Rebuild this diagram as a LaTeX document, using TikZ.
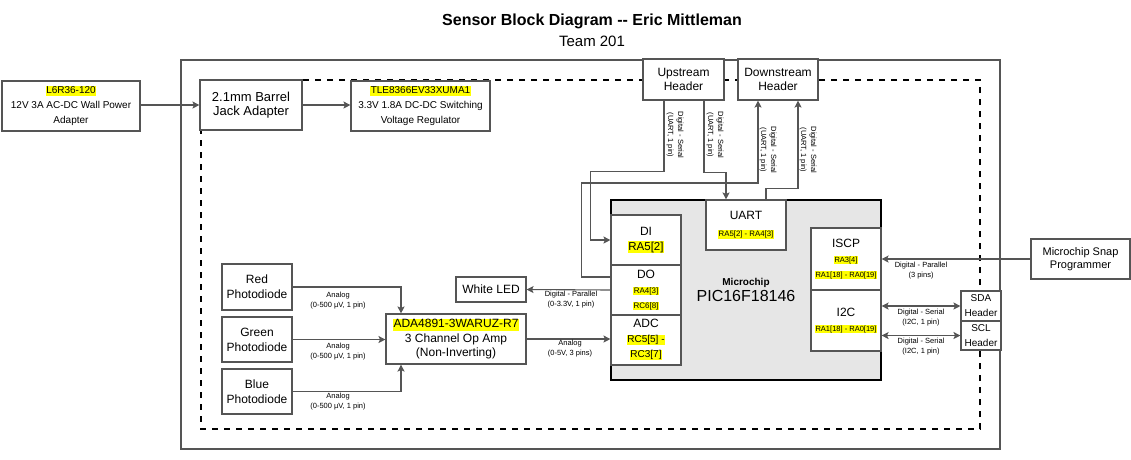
\documentclass[tikz,border=0pt]{standalone}
\usepackage{fontspec}
\setmainfont{Liberation Sans}
\usetikzlibrary{arrows.meta,calc}
\definecolor{ln}{HTML}{555555}
\definecolor{hly}{HTML}{FFFF00}
\definecolor{mcufill}{HTML}{E6E6E6}
\newcommand{\yl}[1]{{\setlength{\fboxsep}{0.5pt}\colorbox{hly}{\vphantom{Ay[}#1}}}
\newcommand{\fs}[2]{\fontsize{#1}{#2}\selectfont}
\begin{document}
\begin{tikzpicture}[x=1pt,y=-1pt,
  box/.style={draw=ln,line width=1.1pt,fill=white,inner sep=0pt,align=center,text=black},
  sz/.style 2 args={minimum width=#1pt,minimum height=#2pt},
  conn/.style={draw=ln,line width=1.1pt,-{Stealth[length=7pt,width=7pt,inset=1.5pt]}},
  dconn/.style={draw=ln,line width=1.1pt,{Stealth[length=7pt,width=7pt,inset=1.5pt]}-{Stealth[length=7pt,width=7pt,inset=1.5pt]}},
  lbl/.style={font=\fs{7.5}{10},align=center,inner sep=0pt,text=black},
]
\useasboundingbox (0,0) rectangle (1131,459);
\node[font=\bfseries\fs{16}{19}] (title) at (592,21) {Sensor Block Diagram -{}- Eric Mittleman};
\node[font=\fs{15}{18}] (team) at (592,41) {Team 201};
\draw[ln, line width=1.5pt] (181,60) rectangle (1000,449);
\draw[black, line width=2pt, dash pattern=on 6pt off 6pt] (201,80) rectangle (980,429);

\node[box,sz={138}{50},font=\fs{10}{15}] (adapter) at (71,106) {\yl{L6R36-120}\\12V 3A AC-DC Wall Power\\Adapter};
\node[box,sz={102}{50},font=\fs{13}{14}] (barrel) at (251,105) {2.1mm Barrel\\Jack Adapter};
\node[box,sz={139}{50},font=\fs{10}{15}] (reg) at (420.5,106) {\yl{TLE8366EV33XUMA1}\\3.3V 1.8A DC-DC Switching\\Voltage Regulator};
\node[box,sz={81}{41},font=\fs{12}{14}] (up) at (683.5,79.5) {Upstream\\Header};
\node[box,sz={80}{41},font=\fs{12}{14}] (down) at (778,79.5) {Downstream\\Header};

\node[box,draw=black,line width=2pt,fill=mcufill,sz={270}{180},font=\fs{16}{16}] (mcu) at (746,290) {{\bfseries\fs{10}{12}Microchip}\\PIC16F18146};
\node[box,sz={70}{50},font=\fs{12}{15}] (DI) at (646,240) {DI\\{\fs{11.5}{15}\yl{RA5[2]}}};
\node[box,sz={70}{50},font=\fs{12}{15}] (DO) at (646,290) {DO\\{\fs{8}{10}\yl{RA4[3]}}\\{\fs{8}{10}\yl{RC6[8]}}};
\node[box,sz={70}{50},font=\fs{12}{15}] (ADC) at (646,340) {ADC\\{\fs{10}{12}\yl{RC5[5] -}}\\{\fs{10}{12}\yl{RC3[7]}}};
\node[box,sz={80}{50},font=\fs{12}{15}] (UART) at (746,225) {UART\\[2pt]{\fs{7.8}{9}\yl{RA5[2] - RA4[3]}}};
\node[box,sz={70}{62},font=\fs{12}{15}] (ISCP) at (846,259) {ISCP\\{\fs{7.5}{9}\yl{RA3[4]}}\\{\fs{7.5}{9}\yl{RA1[18] - RA0[19]}}};
\node[box,sz={70}{61},font=\fs{12}{15}] (I2C) at (846,320.5) {I2C\\{\fs{7.5}{9}\yl{RA1[18] - RA0[19]}}};

\node[box,sz={99}{40},font=\fs{11}{13}] (snap) at (1080.5,259) {Microchip Snap\\Programmer};
\node[box,sz={40}{30},font=\fs{10}{15}] (SDA) at (981,306) {SDA\\Header};
\node[box,sz={40}{29},font=\fs{10}{15}] (SCL) at (981,335.5) {SCL\\Header};
\node[box,sz={70}{25},font=\fs{12}{14}] (led) at (491,289.5) {White LED};
\node[box,sz={70}{46},font=\fs{12}{15}] (red) at (257,287) {Red\\Photodiode};
\node[box,sz={70}{45},font=\fs{12}{15}] (green) at (257,339.5) {Green\\Photodiode};
\node[box,sz={70}{45},font=\fs{12}{15}] (blue) at (257,391.5) {Blue\\Photodiode};
\node[box,sz={140}{50},font=\fs{12}{14.5}] (opamp) at (456,339) {\yl{ADA4891-3WARUZ-R7}\\3 Channel Op Amp\\(Non-Inverting)};

\draw[conn] (adapter.east |- barrel.west) -- (barrel.west);
\draw[conn] (barrel.east) -- (barrel.east -| reg.west);
\draw[conn] ([xshift=-19.5pt]up.south) -- ++(0,71) -| ([xshift=-20pt]DI.west) -- (DI.west);
\draw[conn] ([xshift=20.5pt]up.south) -- ++(0,72) -| ([xshift=-20pt]UART.north);
\draw[conn] ([yshift=13pt]DO.west) -- ++(-29,0) -- ++(0,-94) -| ([xshift=-20pt]down.south);
\draw[conn] ([xshift=20pt]UART.north) -- ++(0,-11) -| ([xshift=20pt]down.south);
\draw[conn] (DO.west) -- (led.east);
\draw[conn] (red.east) -| ([xshift=-55pt]opamp.north);
\draw[conn] (green.east) -- (green.east -| opamp.west);
\draw[conn] (blue.east) -| ([xshift=-55pt]opamp.south);
\draw[conn] (opamp.east) -- (opamp.east -| ADC.west);
\draw[conn] (snap.west) -- (snap.west -| ISCP.east);
\draw[dconn] (SDA.west -| I2C.east) -- (SDA.west);
\draw[dconn] (SCL.west -| I2C.east) -- (SCL.west);

\node[lbl,rotate=-90] (l1) at (675,135) {Digital - Serial\\(UART, 1 pin)};
\node[lbl,rotate=-90] (l2) at (715,135) {Digital - Serial\\(UART, 1 pin)};
\node[lbl,rotate=-90] (l3) at (768,150) {Digital - Serial\\(UART, 1 pin)};
\node[lbl,rotate=-90] (l4) at (808,150) {Digital - Serial\\(UART, 1 pin)};
\node[lbl] (l5) at (338,301) {Analog\\(0-500 µV, 1 pin)};
\node[lbl] (l6) at (338,352) {Analog\\(0-500 µV, 1 pin)};
\node[lbl] (l7) at (338,402) {Analog\\(0-500 µV, 1 pin)};
\node[lbl] (l8) at (570,349) {Analog\\(0-5V, 3 pins)};
\node[lbl] (l9) at (571,300) {Digital - Parallel\\(0-3.3V, 1 pin)};
\node[lbl] (l10) at (921,271) {Digital - Parallel\\(3 pins)};
\node[lbl] (l11) at (921,318) {Digital - Serial\\(I2C, 1 pin)};
\node[lbl] (l12) at (921,347) {Digital - Serial\\(I2C, 1 pin)};
\end{tikzpicture}
\end{document}
